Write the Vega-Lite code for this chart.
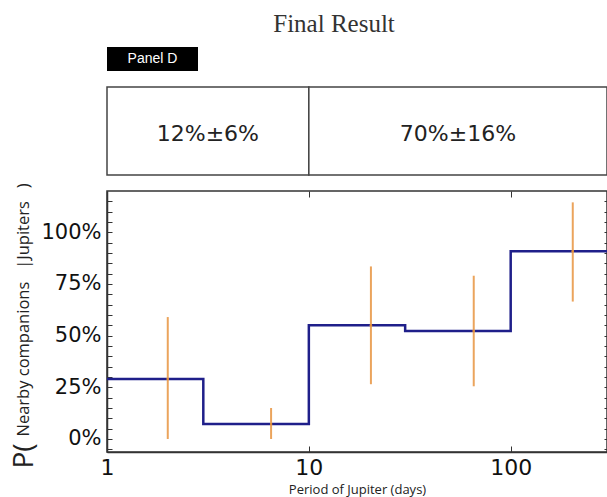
{
  "$schema": "https://vega.github.io/schema/vega-lite/v6.json",
  "background": "white",
  "padding": {"left": 9, "top": 12, "right": 0, "bottom": 0},
  "title": {"text": "Final Result", "font": "Liberation Serif", "fontSize": 25, "fontWeight": "normal", "color": "#333", "anchor": "middle", "dx": 23, "offset": 10},
  "datasets": {
    "steps": [
      {"period": 1, "p": 0.29},
      {"period": 3, "p": 0.072},
      {"period": 10, "p": 0.55},
      {"period": 30, "p": 0.523},
      {"period": 100, "p": 0.908},
      {"period": 300, "p": 0.908}
    ],
    "errors": [
      {"period": 2.0, "p": 0.29, "lo": 0.0, "hi": 0.59},
      {"period": 6.5, "p": 0.072, "lo": 0.0, "hi": 0.15},
      {"period": 20.3, "p": 0.55, "lo": 0.265, "hi": 0.835},
      {"period": 65.6, "p": 0.523, "lo": 0.255, "hi": 0.79},
      {"period": 203, "p": 0.908, "lo": 0.665, "hi": 1.145}
    ],
    "cells": [
      {"lo": 1, "hi": 10, "mid": 3.16, "label": "12%±6%"},
      {"lo": 10, "hi": 300, "mid": 54.8, "label": "70%±16%"}
    ]
  },
  "spacing": 16,
  "bounds": "flush",
  "vconcat": [
    {
      "width": 91,
      "height": 24,
      "view": {"stroke": null},
      "data": {"values": [{"tag": "Panel D"}]},
      "layer": [
        {"mark": {"type": "rect", "color": "black"}, "encoding": {}},
        {"mark": {"type": "text", "color": "white", "font": "Liberation Sans", "fontSize": 14}, "encoding": {"text": {"field": "tag"}}}
      ]
    },
    {
      "width": 500,
      "height": 88,
      "view": {"stroke": null},
      "data": {"name": "cells"},
      "layer": [
        {
          "mark": {"type": "rect", "fill": "white", "stroke": "#444", "strokeWidth": 1.5},
          "encoding": {
            "x": {"field": "lo", "type": "quantitative", "scale": {"type": "log", "domain": [1, 300], "nice": false}, "axis": null},
            "x2": {"field": "hi"}
          }
        },
        {
          "mark": {"type": "text", "font": "DejaVu Sans", "fontSize": 22, "color": "#222", "dy": 3},
          "encoding": {
            "x": {"field": "mid", "type": "quantitative"},
            "text": {"field": "label"}
          }
        }
      ]
    },
    {
      "width": 500,
      "height": 261,
      "view": {"stroke": "#333", "strokeWidth": 1.5},
      "resolve": {"axis": {"x": "independent", "y": "independent"}},
      "layer": [
        {
          "data": {"name": "steps"},
          "mark": {"type": "line", "interpolate": "step-after", "color": "#1f1f8a", "strokeWidth": 2.5},
          "encoding": {
            "x": {
              "field": "period", "type": "quantitative",
              "scale": {"type": "log", "domain": [1, 300], "nice": false},
              "axis": {
                "orient": "bottom", "values": [1, 10, 100], "format": "d", "grid": false,
                "tickSize": -6, "tickColor": "#333", "domainColor": "#333", "domainWidth": 1.5,
                "labelFont": "DejaVu Sans", "labelFontSize": 22, "labelColor": "#111", "labelPadding": 11, "labelFlush": false,
                "title": "Period of Jupiter (days)", "titleFont": "Open Sans", "titleFontSize": 13, "titleFontWeight": "normal", "titleColor": "#222", "titlePadding": 5
              }
            },
            "y": {
              "field": "p", "type": "quantitative",
              "scale": {"domain": [-0.063, 1.2], "nice": false, "zero": false},
              "axis": {
                "orient": "left", "grid": false,
                "values": [-0.05, 0, 0.05, 0.1, 0.15, 0.2, 0.25, 0.3, 0.35, 0.4, 0.45, 0.5, 0.55, 0.6, 0.65, 0.7, 0.75, 0.8, 0.85, 0.9, 0.95, 1, 1.05, 1.1, 1.15],
                "labelExpr": "round(datum.value*100) % 25 === 0 ? format(datum.value, '.0%') : ''",
                "tickSize": -5, "tickColor": "#333", "domainColor": "#333", "domainWidth": 1.5,
                "labelFont": "DejaVu Sans", "labelFontSize": 21, "labelColor": "#111", "labelPadding": 11,
                "title": "Nearby companions\u00a0\u00a0\u00a0|Jupiters\u00a0\u00a0\u00a0)", "titleFont": "Open Sans", "titleFontSize": 16.5, "titleFontWeight": "normal", "titleColor": "#222",
                "titleAngle": -90, "titleAlign": "left", "titleBaseline": "alphabetic", "titleX": -79, "titleY": 245
              }
            }
          }
        },
        {
          "data": {"name": "errors"},
          "mark": {"type": "rule", "color": "#eba45c", "strokeWidth": 2},
          "encoding": {
            "x": {
              "field": "period", "type": "quantitative",
              "axis": {"orient": "top", "values": [10, 100], "labels": false, "title": null, "domain": false, "grid": false, "tickSize": -6, "tickColor": "#333"}
            },
            "y": {
              "field": "lo", "type": "quantitative",
              "axis": {
                "orient": "left", "labels": false, "ticks": false, "domain": false, "grid": false,
                "title": "P(", "titleFont": "Open Sans", "titleFontSize": 28, "titleFontWeight": "normal", "titleColor": "#222",
                "titleAngle": -90, "titleAlign": "left", "titleBaseline": "alphabetic", "titleX": -75, "titleY": 277
              }
            },
            "y2": {"field": "hi"}
          }
        },
        {
          "data": {"name": "errors"},
          "mark": {"type": "point", "filled": true, "size": 6, "color": "#d98a3a", "opacity": 1},
          "encoding": {
            "x": {"field": "period", "type": "quantitative", "axis": null},
            "y": {
              "field": "p", "type": "quantitative",
              "axis": {
                "orient": "right", "grid": false, "labels": false, "title": null, "domain": false,
                "values": [-0.05, 0, 0.05, 0.1, 0.15, 0.2, 0.25, 0.3, 0.35, 0.4, 0.45, 0.5, 0.55, 0.6, 0.65, 0.7, 0.75, 0.8, 0.85, 0.9, 0.95, 1, 1.05, 1.1, 1.15],
                "tickSize": -3, "tickColor": "#333"
              }
            }
          }
        }
      ]
    }
  ]
}
